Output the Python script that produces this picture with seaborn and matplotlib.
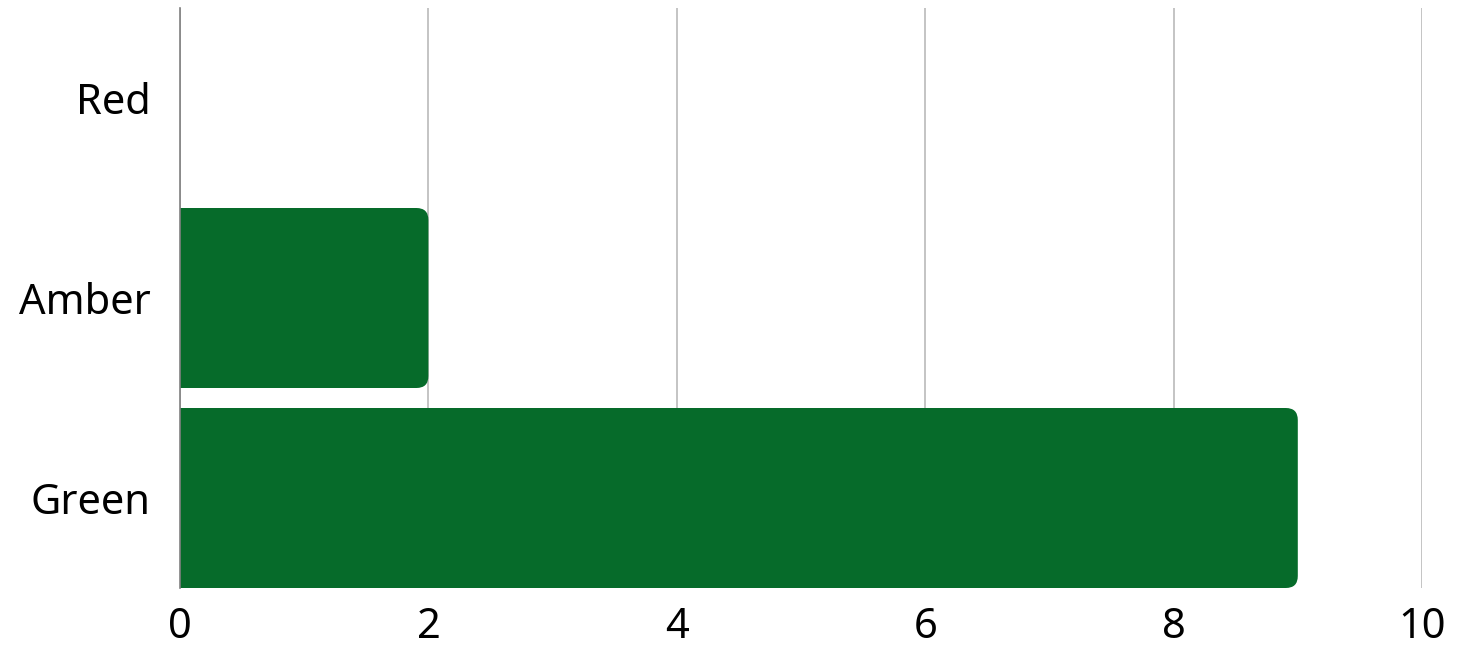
import matplotlib
matplotlib.use("Agg")
import matplotlib.pyplot as plt
import seaborn as sns
import pandas as pd
from matplotlib.patches import FancyBboxPatch

# chart data
categories = ["Red", "Amber", "Green"]
counts = [0, 2, 9]
x_ticks = [0, 2, 4, 6, 8, 10]

BAR_COLOR = "#066b2a"


def main():
    sns.set_theme(style="white")
    plt.rcParams["font.family"] = ["Noto Sans", "DejaVu Sans"]

    df = pd.DataFrame({"status": categories, "count": counts})

    fig = plt.figure(figsize=(14.63, 6.51), dpi=100)
    ax = fig.add_axes([180 / 1463, 63 / 651, 1242 / 1463, 580 / 651])

    sns.barplot(data=df, x="count", y="status", order=categories,
                color=BAR_COLOR, saturation=1, width=0.9, ax=ax)

    ax.set_xlim(0, 10)
    ax.set_ylim(2.45, -0.45)
    ax.set_xticks(x_ticks)
    ax.set_xlabel("")
    ax.set_ylabel("")

    # swap plain bars for ones with rounded right corners
    fig.canvas.draw()
    px = ax.transData.transform([(0, 0), (1, 1)])
    x_px = abs(px[1][0] - px[0][0])
    y_px = abs(px[1][1] - px[0][1])
    r = 12 / x_px
    aspect = x_px / y_px
    for bar in list(ax.patches):
        x0, y0 = bar.get_x(), bar.get_y()
        w, h = bar.get_width(), bar.get_height()
        bar.remove()
        if w <= 0:
            continue
        rounded = FancyBboxPatch((x0 - 2 * r, y0), w + 2 * r, h,
                                 boxstyle=f"round,pad=0,rounding_size={r}",
                                 mutation_aspect=aspect,
                                 facecolor=BAR_COLOR, edgecolor="none",
                                 zorder=2)
        ax.add_patch(rounded)

    ax.grid(axis="x", color="#c4c4c4", linewidth=1.4, zorder=0)
    ax.set_axisbelow(True)
    for side in ["top", "right", "bottom"]:
        ax.spines[side].set_visible(False)
    ax.spines["left"].set_color("#808080")
    ax.spines["left"].set_linewidth(1.2)
    ax.spines["left"].set_zorder(3)

    ax.tick_params(axis="x", length=0, pad=13, labelsize=30, colors="black")
    ax.tick_params(axis="y", length=0, pad=21, labelsize=30, colors="black")

    fig.savefig("out.png", dpi=100, facecolor="white")


if __name__ == "__main__":
    main()
